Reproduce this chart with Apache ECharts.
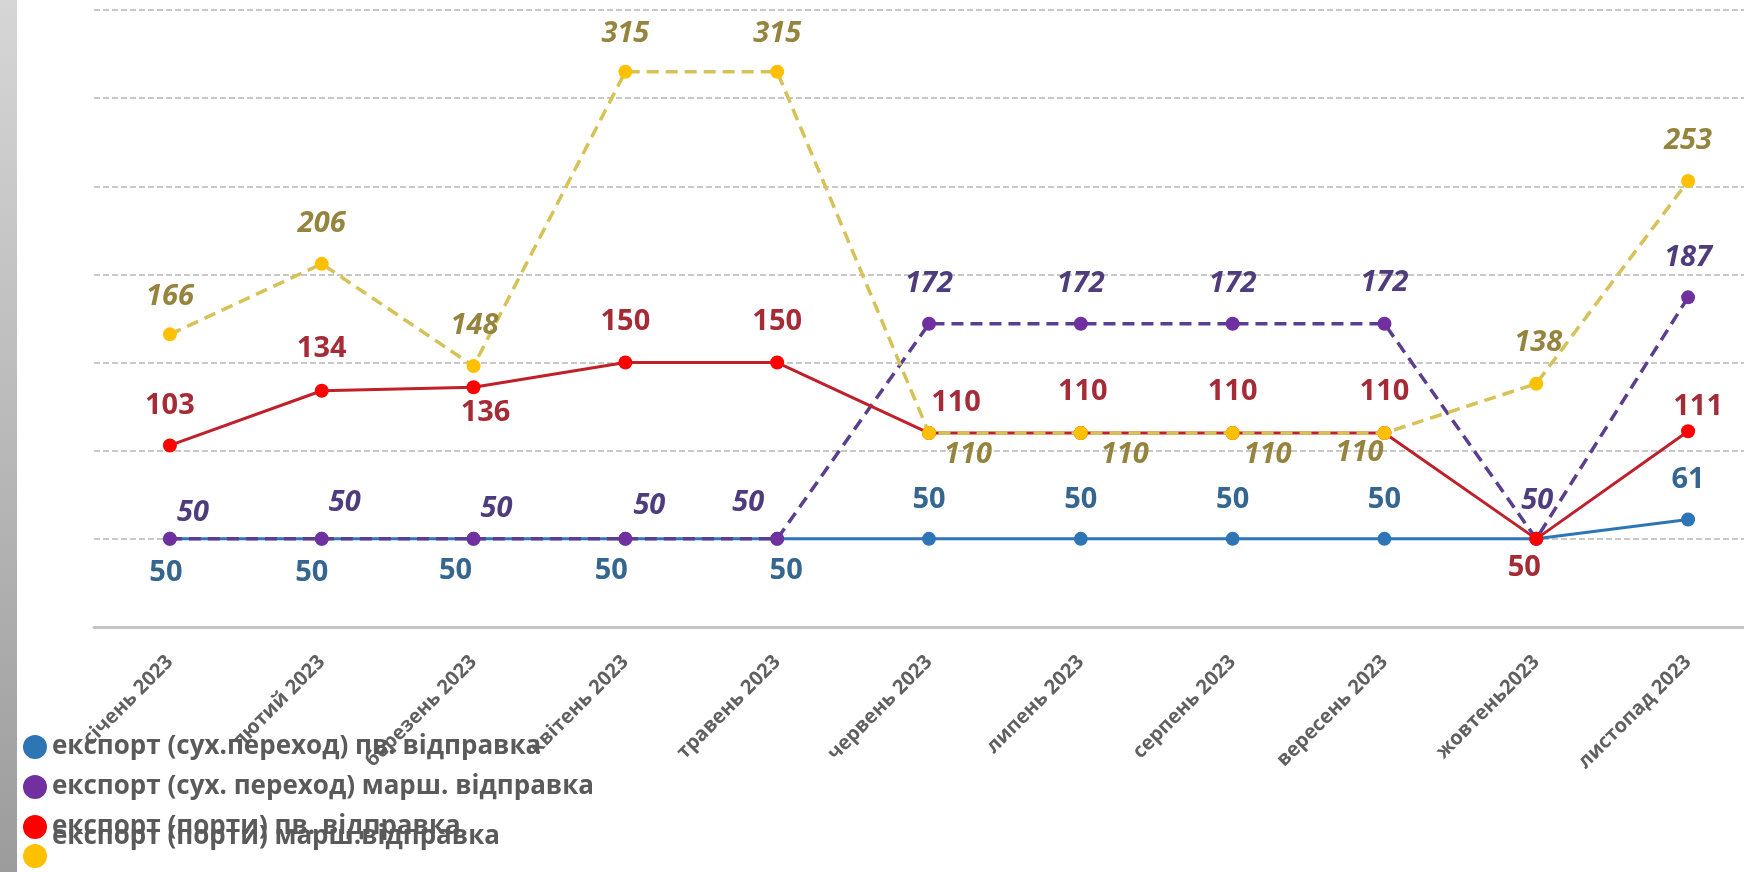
<!DOCTYPE html>
<html>
<head>
<meta charset="utf-8">
<script src="https://cdn.jsdelivr.net/npm/echarts@6/dist/echarts.min.js"></script>
<style>
html,body{margin:0;padding:0;background:#fff;}
#chart{width:1744px;height:872px;}
</style>
</head>
<body>
<div id="chart"></div>
<script>
const categories = ['січень 2023','лютий 2023','березень 2023','квітень 2023','травень 2023','червень 2023','липень 2023','серпень 2023','вересень 2023','жовтень2023','листопад 2023'];
const seriesNames = ['експорт (сух.переход) пв. відправка','експорт (сух. переход) марш. відправка','експорт (порти) пв. відправка','експорт (порти) марш.відправка'];
const landSingle = [50,50,50,50,50,50,50,50,50,50,61];
const landRoute  = [50,50,50,50,50,172,172,172,172,50,187];
const portSingle = [103,134,136,150,150,110,110,110,110,50,111];
const portRoute  = [166,206,148,315,315,110,110,110,110,138,253];
const yTicks = {min:0, max:350, interval:50};

// label placement (offset of the label centre from the point, px); null = no label
const landSingleLbl = [[-4,34],[-10,34],[-18,32],[-14,32],[9,32],[0,-39],[0,-39],[0,-39],[0,-39],null,[0,-40]];
const landRouteLbl  = [[23,-26],[23,-36],[23,-30],[24,-33],[-29,-36],[0,-40],[0,-40],[0,-40],[0,-41],[1,-38],[0,-40]];
const portSingleLbl = [[0,-40],[0,-42],[12,25],[0,-41],[0,-41],[27,-30],[2,-41],[0,-41],[0,-41],[-12,29],[10,-25]];
const portRouteLbl  = [[0,-38],[0,-40],[1,-40],[0,-38],[0,-38],[39,22],[44,22],[35,22],[-25,20],[2,-41],[0,-40]];

function items(vals, lbls){
  return vals.map((v,i)=> lbls[i] ? {value:v, label:{offset:lbls[i]}} : {value:v, label:{show:false}});
}
function lbl(color, italic){
  return {show:true, position:'inside', fontFamily:'Open Sans', fontSize:29, fontWeight:'bold',
          fontStyle: italic ? 'italic' : 'normal', color: color};
}
const legendText = {fontFamily:'Open Sans', fontSize:26, fontWeight:'bold', color:'#5a5a5a'};

const chart = echarts.init(document.getElementById('chart'), null, {renderer:'canvas'});
chart.setOption({
  backgroundColor:'#ffffff',
  animation:false,
  graphic:[{
    type:'rect', left:0, top:0, z:0,
    shape:{width:17, height:872},
    style:{fill:new echarts.graphic.LinearGradient(0,0,0,1,[{offset:0,color:'#d6d6d6'},{offset:1,color:'#9c9c9c'}])}
  }],
  grid:{left:94, top:10, width:1670, height:617, containLabel:false, outerBoundsMode:'none'},
  legend:[{
    data:seriesNames.slice(0,3),
    orient:'vertical', left:18, top:729,
    icon:'circle', itemWidth:24, itemHeight:24, itemGap:14,
    textStyle:legendText
  },{
    data:seriesNames.slice(3),
    orient:'vertical', left:18, top:819,
    icon:'circle', itemWidth:24, itemHeight:24,
    formatter:'{a|{name}}',
    textStyle:Object.assign({}, legendText, {rich:{a:Object.assign({}, legendText, {padding:[0,0,38,0]})}})
  }],
  xAxis:{
    type:'category', data:categories, boundaryGap:true,
    axisLine:{show:true, lineStyle:{color:'#c4c4c4', width:3}},
    axisTick:{show:false},
    axisLabel:{rotate:45, margin:32, interval:0, fontFamily:'Open Sans', fontSize:20, fontWeight:'bold', color:'#606060'}
  },
  yAxis:{
    type:'value', min:yTicks.min, max:yTicks.max, interval:yTicks.interval,
    axisLine:{show:false}, axisTick:{show:false}, axisLabel:{show:false},
    splitLine:{show:true, lineStyle:{color:'#c8c8c8', width:2, type:[6,3]}}
  },
  series:[{
    name:seriesNames[0], type:'line', data:items(landSingle, landSingleLbl),
    symbol:'circle', symbolSize:14, z:2,
    lineStyle:{color:'#2E75B6', width:3},
    itemStyle:{color:'#2E75B6'},
    label:lbl('#35668f', false)
  },{
    name:seriesNames[1], type:'line', data:items(landRoute, landRouteLbl),
    symbol:'circle', symbolSize:14, z:3,
    lineStyle:{color:'#5B3F8F', width:3.5, type:[12,7]},
    itemStyle:{color:'#7030A0'},
    label:lbl('#4f3c7c', true)
  },{
    name:seriesNames[2], type:'line', data:items(portSingle, portSingleLbl),
    symbol:'circle', symbolSize:14, z:4,
    lineStyle:{color:'#C0202A', width:3},
    itemStyle:{color:'#FF0000'},
    label:lbl('#a52c36', false)
  },{
    name:seriesNames[3], type:'line', data:items(portRoute, portRouteLbl),
    symbol:'circle', symbolSize:14, z:5,
    lineStyle:{color:'#D6C257', width:3.5, type:[12,7]},
    itemStyle:{color:'#FFC000'},
    label:lbl('#95843e', true)
  }]
});
</script>
</body>
</html>
